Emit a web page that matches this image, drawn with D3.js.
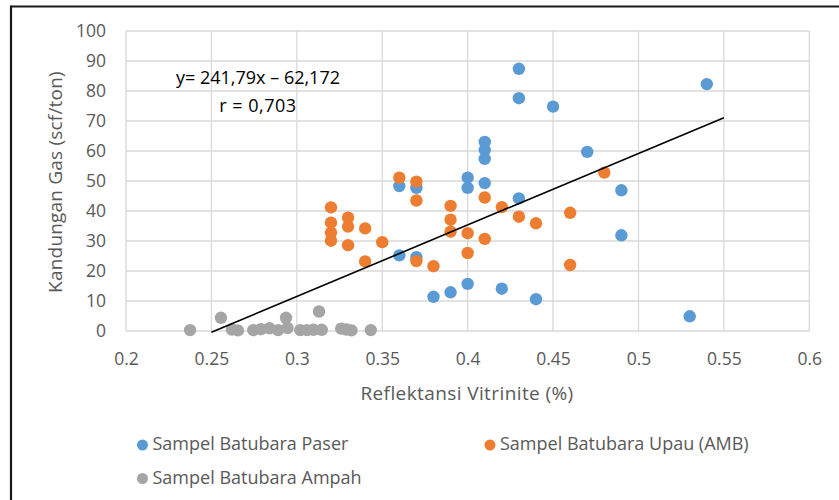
<!DOCTYPE html>
<html>
<head>
<meta charset="utf-8">
<script src="https://cdn.jsdelivr.net/npm/d3@7"></script>
<style>
  html, body { margin: 0; padding: 0; background: #fff; }
  svg { display: block; }
  text { font-family: "Open Sans", "DejaVu Sans", sans-serif; }
</style>
</head>
<body>
<svg id="chart" width="839" height="500"></svg>
<script>
// ---- Data ----
const paserX = [0.43, 0.43, 0.45, 0.54, 0.41, 0.41, 0.41, 0.47, 0.40, 0.40, 0.41, 0.43, 0.49, 0.49, 0.36, 0.37, 0.36, 0.37, 0.38, 0.39, 0.40, 0.42, 0.44, 0.53];
const paserY = [87.4, 77.6, 74.8, 82.3, 63.0, 60.3, 57.4, 59.7, 51.1, 47.7, 49.3, 44.2, 46.9, 31.9, 48.3, 47.7, 25.2, 24.6, 11.4, 12.9, 15.7, 14.1, 10.6, 4.9];

const upauX = [0.32, 0.32, 0.32, 0.32, 0.33, 0.33, 0.33, 0.34, 0.34, 0.35, 0.36, 0.37, 0.37, 0.37, 0.38, 0.39, 0.39, 0.39, 0.40, 0.40, 0.41, 0.41, 0.42, 0.43, 0.44, 0.46, 0.46, 0.48];
const upauY = [41.2, 36.1, 32.8, 30.1, 37.8, 34.8, 28.6, 34.2, 23.2, 29.6, 51.1, 49.8, 43.5, 23.3, 21.6, 41.7, 37.1, 33.1, 32.6, 26.0, 44.5, 30.7, 41.3, 38.1, 35.9, 39.4, 22.0, 52.8];

const ampahX = [0.2375, 0.2556, 0.262, 0.2655, 0.2745, 0.279, 0.284, 0.289, 0.2937, 0.2945, 0.302, 0.306, 0.3097, 0.313, 0.3146, 0.326, 0.329, 0.332, 0.3433];
const ampahY = [0.3, 4.4, 0.5, 0.2, 0.3, 0.6, 0.9, 0.3, 4.4, 1.0, 0.3, 0.3, 0.4, 6.5, 0.4, 0.8, 0.5, 0.2, 0.3];

const trendX = [0.25, 0.55];
const trendY = [-0.4, 71.1];

const xTicks = [0.2, 0.25, 0.3, 0.35, 0.4, 0.45, 0.5, 0.55, 0.6];
const yTicks = [0, 10, 20, 30, 40, 50, 60, 70, 80, 90, 100];

const seriesNames = ["Sampel Batubara Paser", "Sampel Batubara Upau (AMB)", "Sampel Batubara Ampah"];
const seriesColors = ["#5B9BD5", "#ED7D31", "#A5A5A5"];

const equationText = "y= 241,79x \u2013 62,172";
const rText = "r = 0,703";
const xTitle = "Reflektansi Vitrinite (%)";
const yTitle = "Kandungan Gas (scf/ton)";

// ---- Layout ----
const svg = d3.select("#chart");
const pL = 126, pR = 809.3, pT = 31, pB = 331;

const x = d3.scaleLinear().domain([0.2, 0.6]).range([pL, pR]);
const y = d3.scaleLinear().domain([0, 100]).range([pB, pT]);

// outer frame (top and left lines)
svg.append("line").attr("x1", 11).attr("x2", 839).attr("y1", 6.5).attr("y2", 6.5)
  .attr("stroke", "#1a1a1a").attr("stroke-width", 2.2);
svg.append("line").attr("x1", 11).attr("x2", 11).attr("y1", 5.5).attr("y2", 500)
  .attr("stroke", "#1a1a1a").attr("stroke-width", 2.2);

// gridlines
const grid = svg.append("g");
grid.selectAll(".vg").data(xTicks).enter().append("line")
  .attr("x1", d => x(d)).attr("x2", d => x(d)).attr("y1", pT).attr("y2", pB)
  .attr("stroke", "#D9D9D9").attr("stroke-width", 1.3);
grid.selectAll(".hg").data(yTicks).enter().append("line")
  .attr("x1", pL).attr("x2", pR).attr("y1", d => y(d)).attr("y2", d => y(d))
  .attr("stroke", "#D9D9D9").attr("stroke-width", 1.3);

// axes via d3
const xAxis = d3.axisBottom(x).tickValues(xTicks).tickSize(0).tickPadding(22)
  .tickFormat(d => String(+d.toFixed(2)));
const gx = svg.append("g").attr("transform", `translate(0,${pB})`).call(xAxis);
gx.select(".domain").remove();
gx.selectAll("text").attr("fill", "#595959").style("font-size", "17.5px");

const yAxis = d3.axisLeft(y).tickValues(yTicks).tickSize(0).tickPadding(20)
  .tickFormat(d => String(d));
const gy = svg.append("g").attr("transform", `translate(${pL},0)`).call(yAxis);
gy.select(".domain").remove();
gy.selectAll("text").attr("fill", "#595959").style("font-size", "17.5px");

// axis titles
svg.append("text").attr("x", 467).attr("y", 400).attr("text-anchor", "middle")
  .attr("fill", "#595959").style("font-size", "19px").style("letter-spacing", "0.4px").text(xTitle);
svg.append("text").attr("transform", `translate(62,182) rotate(-90)`).attr("text-anchor", "middle")
  .attr("fill", "#595959").style("font-size", "19px").style("letter-spacing", "0.2px").text(yTitle);

// points
const series = [
  { xs: paserX, ys: paserY },
  { xs: upauX, ys: upauY },
  { xs: ampahX, ys: ampahY }
];
[2, 0, 1].forEach(i => {
  const s = series[i];
  svg.append("g").selectAll("circle").data(s.xs.map((v, j) => [v, s.ys[j]])).enter()
    .append("circle").attr("cx", d => x(d[0])).attr("cy", d => y(d[1])).attr("r", 6.2)
    .attr("fill", seriesColors[i]);
});

// trendline
svg.append("path")
  .datum(trendX.map((v, i) => [v, trendY[i]]))
  .attr("d", d3.line().x(d => x(d[0])).y(d => y(d[1])))
  .attr("stroke", "#000").attr("stroke-width", 1.6).attr("fill", "none");

// annotation
svg.append("text").attr("x", 258).attr("y", 84).attr("text-anchor", "middle")
  .attr("fill", "#000").style("font-size", "18px").text(equationText);
svg.append("text").attr("x", 258).attr("y", 112).attr("text-anchor", "middle")
  .attr("fill", "#000").style("font-size", "18px").style("letter-spacing", "0.5px").text(rText);

// legend
const legendPos = [[142.5, 444], [490, 444], [142.5, 477.5]];
const lg = svg.append("g");
seriesNames.forEach((name, i) => {
  const [lx, ly] = legendPos[i];
  lg.append("circle").attr("cx", lx).attr("cy", ly + 1).attr("r", 5.5).attr("fill", seriesColors[i]);
  lg.append("text").attr("x", lx + 10).attr("y", ly).attr("dy", "0.35em")
    .attr("fill", "#595959").style("font-size", "18px").text(name);
});
</script>
</body>
</html>
